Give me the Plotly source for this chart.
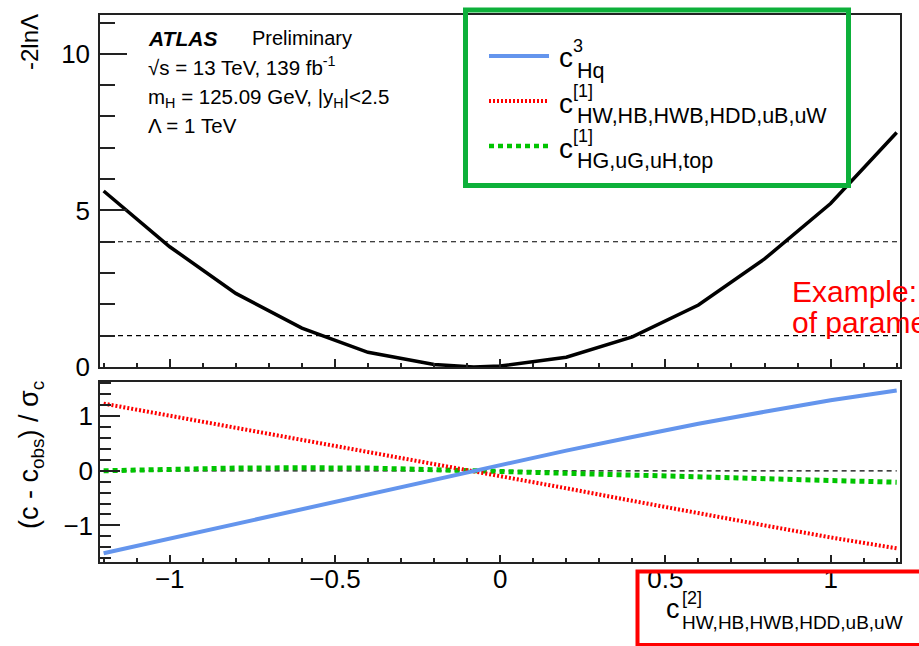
import plotly.graph_objects as go

# Scan points of the Wilson coefficient c^[2]_{HW,HB,HWB,HDD,uB,uW}
scan_x = [-1.2, -1.0, -0.8, -0.6, -0.4, -0.2, -0.08, 0.0, 0.2, 0.4, 0.6, 0.8, 1.0, 1.2]
nll = [5.62, 3.84, 2.35, 1.24, 0.47, 0.08, 0.0, 0.03, 0.31, 0.96, 1.98, 3.45, 5.22, 7.49]

# Pulls of the other profiled coefficients, (c - c_obs) / sigma_c
pull_hq3 = [-1.51, -1.24, -0.97, -0.70, -0.43, -0.16, 0.0, 0.10, 0.37, 0.62, 0.86, 1.08, 1.29, 1.47]
pull_hw1 = [1.23, 1.01, 0.79, 0.57, 0.35, 0.13, 0.0, -0.09, -0.32, -0.55, -0.78, -1.00, -1.22, -1.42]
pull_hg1 = [0.0, 0.03, 0.05, 0.055, 0.05, 0.02, 0.0, -0.01, -0.04, -0.07, -0.11, -0.15, -0.18, -0.21]

# 1 and 2 sigma reference levels of -2lnL, and zero pull line
nll_levels = [1, 4]
pull_ref = 0

x_range = [-1.211, 1.21]
upper_y_range = [0, 11.24]
lower_y_range = [-1.67, 1.62]

FONT = "Liberation Sans, Arial, Helvetica, sans-serif"
W, H = 919, 646
ML, MR, MT, MB = 100, 19, 15, 84
FRAME = "#222222"

BLUE = "#6495ED"
RED = "#FF0000"
GREEN = "#00C400"


def px_x(px):
    return (px - ML) / (W - ML - MR)


def px_y(py):
    return (H - MB - py) / (H - MT - MB)


fig = go.Figure()

# upper panel: likelihood scan
fig.add_trace(go.Scatter(x=scan_x, y=nll, mode="lines", xaxis="x", yaxis="y",
                         line=dict(color="black", width=3.5), showlegend=False))
for lvl in nll_levels:
    fig.add_trace(go.Scatter(x=x_range, y=[lvl, lvl], mode="lines", xaxis="x", yaxis="y",
                             line=dict(color="black", width=1.2, dash="5px,4px"),
                             showlegend=False))

# lower panel: pulls
fig.add_trace(go.Scatter(x=[scan_x[0], scan_x[-1]], y=[pull_ref, pull_ref], mode="lines",
                         xaxis="x2", yaxis="y2",
                         line=dict(color="black", width=1.2, dash="5px,4px"), showlegend=False))
fig.add_trace(go.Scatter(x=scan_x, y=pull_hg1, mode="lines", xaxis="x2", yaxis="y2",
                         line=dict(color=GREEN, width=5, dash="5px,4px"), showlegend=False))
fig.add_trace(go.Scatter(x=scan_x, y=pull_hw1, mode="lines", xaxis="x2", yaxis="y2",
                         line=dict(color=RED, width=4, dash="2px,2px"), showlegend=False))
fig.add_trace(go.Scatter(x=scan_x, y=pull_hq3, mode="lines", xaxis="x2", yaxis="y2",
                         line=dict(color=BLUE, width=4), showlegend=False))

axis_common = dict(showgrid=False, zeroline=False, showline=True, mirror=True,
                   linecolor=FRAME, linewidth=1.5, ticks="inside", tickcolor=FRAME,
                   tickwidth=1.5, tickfont=dict(family=FONT, size=26, color="black"))

fig.update_layout(
    width=W, height=H,
    margin=dict(l=ML, r=MR, t=MT, b=MB),
    paper_bgcolor="white", plot_bgcolor="white",
    showlegend=False, hovermode=False,
    font=dict(family=FONT, color="black"),
    xaxis=dict(axis_common, domain=[0, 1], range=x_range, anchor="y",
               tick0=0, dtick=0.5, ticklen=8, showticklabels=False,
               minor=dict(dtick=0.1, ticklen=4, ticks="inside", tickcolor=FRAME, tickwidth=1.5)),
    yaxis=dict(axis_common, domain=[px_y(367), 1], range=upper_y_range, anchor="x",
               tick0=0, dtick=5, ticklen=27, ticklabelstandoff=3,
               minor=dict(dtick=1, ticklen=15, ticks="inside", tickcolor=FRAME, tickwidth=1.5)),
    xaxis2=dict(axis_common, domain=[0, 1], range=x_range, anchor="y2",
                tick0=0, dtick=0.5, ticklen=7, ticklabelstandoff=-7,
                minor=dict(dtick=0.1, ticklen=4, ticks="inside", tickcolor=FRAME, tickwidth=1.5)),
    yaxis2=dict(axis_common, domain=[0, px_y(382.3)], range=lower_y_range, anchor="x2",
                tick0=0, dtick=1, ticklen=20, ticklabelstandoff=0,
                minor=dict(dtick=0.2, ticklen=11, ticks="inside", tickcolor=FRAME, tickwidth=1.5)),
)

annotations = []


def text(t, x, y, size, xanchor="left", yanchor="middle", color="black", angle=0):
    annotations.append(dict(text=t, x=px_x(x), y=px_y(y), xref="paper", yref="paper",
                            xanchor=xanchor, yanchor=yanchor, showarrow=False,
                            textangle=angle, borderpad=0,
                            font=dict(family=FONT, size=size, color=color)))


# axis titles
text("-2lnΛ", 29, 13, 24, xanchor="center", yanchor="top", angle=-90)
text("(c - c<sub>obs</sub>) / σ<sub>c</sub>", 31, 380, 27, xanchor="center", yanchor="top", angle=-90)

# experiment label
text("<b><i>ATLAS</i></b>", 147, 38, 21)
text("Preliminary", 251, 38, 20)
text("√s = 13 TeV, 139 fb<sup>-1</sup>", 147, 66, 20.5)
text("m<sub>H</sub> = 125.09 GeV, |y<sub>H</sub>|&lt;2.5", 147, 98, 20.5)
text("Λ = 1 TeV", 147, 125, 20.5)

# legend labels: c with stacked superscript / subscript
legend_rows = [
    ("3", "Hq", 56),
    ("[1]", "HW,HB,HWB,HDD,uB,uW", 101),
    ("[1]", "HG,uG,uH,top", 146),
]
for sup, sub, yc in legend_rows:
    text("c", 558, yc + 2, 28)
    text(sup, 572, yc - 10, 18)
    text(sub, 576, yc + 15, 21.5)

# x-axis title
text("c", 665, 609, 27)
text("[2]", 681, 598, 18)
text("HW,HB,HWB,HDD,uB,uW", 681, 622, 19)

# side note
text("Example:", 791, 291, 30, color=RED)
text("of parameter", 791, 322, 30, color=RED)

fig.update_layout(annotations=annotations)

shapes = []
legend_keys = [(56, BLUE, None, 4), (101, RED, "2px,2px", 4), (146, GREEN, "5px,4px", 4.5)]
for yc, col, dash, wd in legend_keys:
    shapes.append(dict(type="line", xref="paper", yref="paper",
                       x0=px_x(489), x1=px_x(549), y0=px_y(yc), y1=px_y(yc),
                       line=dict(color=col, width=wd, dash=dash)))

# highlight boxes
shapes.append(dict(type="rect", xref="paper", yref="paper", layer="above",
                   x0=px_x(465.5), x1=px_x(848.5), y0=px_y(10), y1=px_y(185.5),
                   line=dict(color="#0DB03A", width=5)))
shapes.append(dict(type="rect", xref="paper", yref="paper", layer="above",
                   x0=px_x(637.5), x1=px_x(930), y0=px_y(571.5), y1=px_y(645),
                   line=dict(color=RED, width=4)))
fig.update_layout(shapes=shapes)

fig.write_html("out.html")
